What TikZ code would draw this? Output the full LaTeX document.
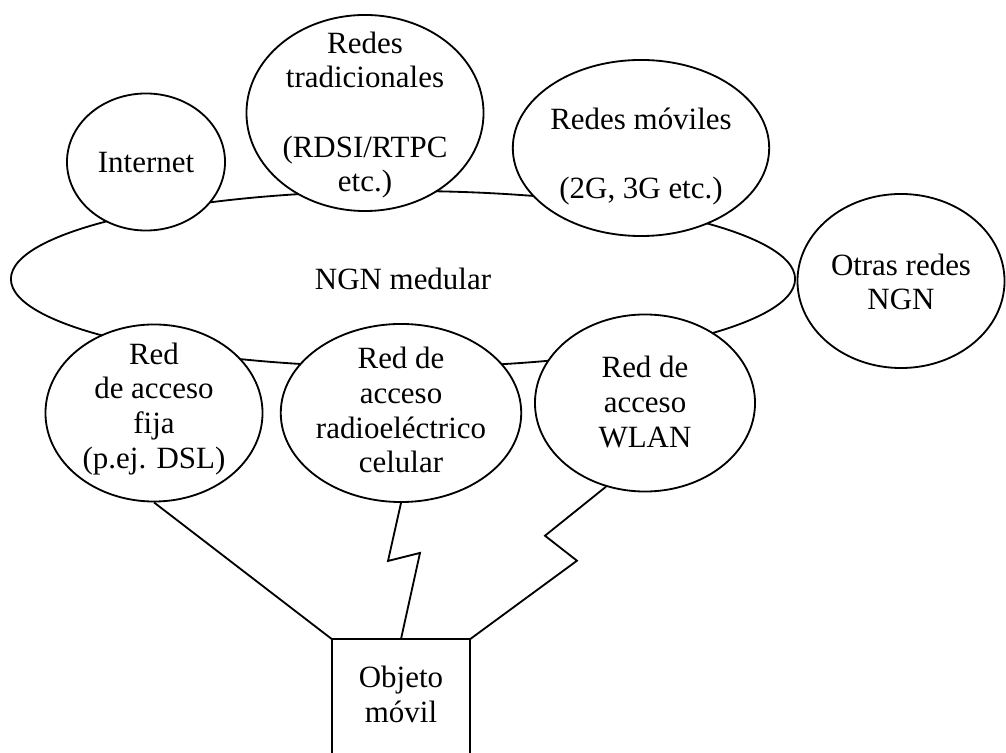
\documentclass[tikz,border=0pt]{standalone}
\usepackage{fontspec}
\setmainfont{Liberation Serif}
\usetikzlibrary{shapes.geometric}
\newcommand{\ovaltext}[2][-7.5pt]{\smash{\raisebox{#1}{\begin{tabular}{@{}c@{}}#2\end{tabular}}}}

\begin{document}
\begin{tikzpicture}[x=0.025cm, y=-0.025cm,
    net/.style={ellipse, draw, fill=white, line width=1.3pt, inner sep=0pt},
    link/.style={line width=1.3pt},
    font=\fontsize{22}{24.7}\selectfont]
  \clip (0,0) rectangle (1006,753); % page = reference frame

  \node[net, minimum width=19.6cm, minimum height=4.4cm] (core) at (403,279) {\ovaltext{NGN medular}};

  \foreach \n/\x/\y/\w/\h/\dy/\txt in {
      inet/146/162/3.95/3.425/-7.5pt/{Internet},
      trad/365/113/5.925/4.9/-7pt/{Redes\\tradicionales\\ \\(RDSI/RTPC\\etc.)},
      movil/641/148/5.45/4.4/-11.8pt/{Redes móviles\\ \\(2G, 3G etc.)},
      otras/901/281/5.175/4.35/-8.5pt/{Otras redes\\NGN},
      fija/154/413/5.425/4.425/-2.5pt/{Red\\de acceso\\fija\\(p.ej. DSL)},
      celu/401/413/5.45/4.45/-5.7pt/{Red de\\acceso\\radioeléctrico\\celular},
      wlan/645/403/5.5/4.425/-7pt/{Red de\\acceso\\WLAN}} {
    \node[net, minimum width=\w cm, minimum height=\h cm] (\n) at (\x,\y) {\ovaltext[\dy]{\txt}};
  }

  % terminal, open at the bottom
  \node[minimum width=3.45cm, minimum height=2.75cm, anchor=north, align=center] (obj) at (401,639) {Objeto\\móvil};
  \draw[link] ([yshift=-3cm]obj.north west) -- (obj.north west) -- (obj.north east) -- ([yshift=-3cm]obj.north east);

  \draw[link] (fija.south) -- (obj.north west);
  \draw[link] (celu.south) -- ++(-13,58) -- ++(32,-8) -- (obj.north); % radio zigzag
  \draw[link] (wlan.245) -- ++(-61,49) -- ++(32,25) -- (obj.north east);
\end{tikzpicture}
\end{document}
